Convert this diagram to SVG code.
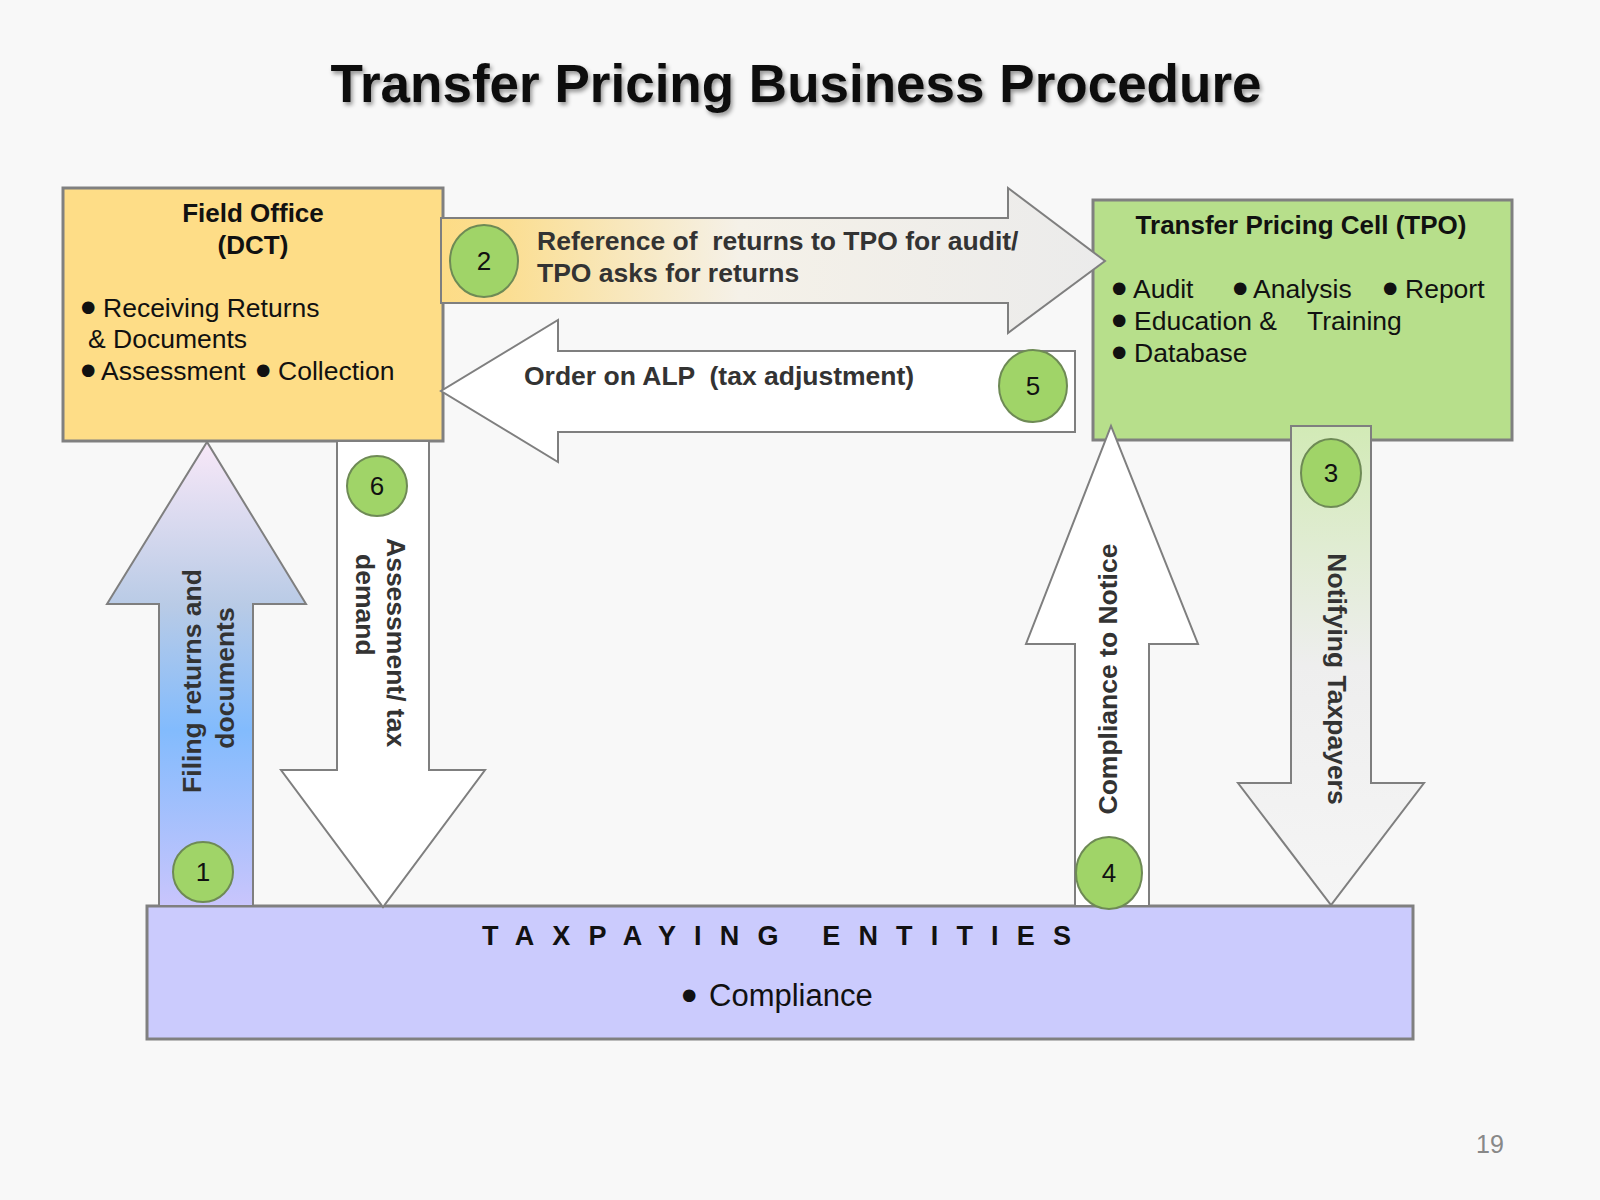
<svg xmlns="http://www.w3.org/2000/svg" width="1600" height="1200" viewBox="0 0 1600 1200">
<defs>
<style>
.t{font-family:"Liberation Sans",Arial,sans-serif;fill:#111}
.b{font-weight:bold}
.bl{font-family:"DejaVu Sans","Liberation Sans",sans-serif;font-size:16.5px}
.box{stroke:#808080;stroke-width:3}
.arr{stroke:#7f7f7f;stroke-width:2;stroke-linejoin:miter}
.num{stroke:#6e8a55;stroke-width:2;fill:#a0d468}
.nt{font-family:"Liberation Sans",Arial,sans-serif;font-size:26px;fill:#111;text-anchor:middle}
.at{font-family:"Liberation Sans",Arial,sans-serif;font-weight:bold;font-size:26.5px;fill:#333;white-space:pre}
</style>
<filter id="sh" x="-5%" y="-20%" width="110%" height="150%">
<feDropShadow dx="2" dy="3" stdDeviation="2" flood-color="#000" flood-opacity="0.4"/>
</filter>
<linearGradient id="g2" gradientUnits="userSpaceOnUse" x1="441" y1="0" x2="1105" y2="0">
<stop offset="0" stop-color="#fddc86"/>
<stop offset="0.1" stop-color="#fbde92"/>
<stop offset="0.45" stop-color="#f5f1e8"/>
<stop offset="1" stop-color="#ebebeb"/>
</linearGradient>
<linearGradient id="g1" gradientUnits="userSpaceOnUse" x1="0" y1="442" x2="0" y2="906">
<stop offset="0" stop-color="#f8e8f8"/>
<stop offset="0.35" stop-color="#b9cbe6"/>
<stop offset="0.62" stop-color="#82bbfd"/>
<stop offset="1" stop-color="#c9c5fc"/>
</linearGradient>
<linearGradient id="g3" gradientUnits="userSpaceOnUse" x1="0" y1="426" x2="0" y2="905">
<stop offset="0" stop-color="#d2eab6"/>
<stop offset="0.5" stop-color="#eeeeee"/>
<stop offset="1" stop-color="#f5f5f5"/>
</linearGradient>
</defs>
<rect x="0" y="0" width="1600" height="1200" fill="#f8f8f8"/>
<text class="t b" x="796" y="102" font-size="54" text-anchor="middle" textLength="931" lengthAdjust="spacingAndGlyphs" filter="url(#sh)">Transfer Pricing Business Procedure</text>

<g id="field-office">
<rect class="box" x="63" y="188" width="380" height="253" fill="#fedd87"/>
<text class="t b" x="253" y="222" font-size="26" text-anchor="middle">Field Office</text>
<text class="t b" x="253" y="254" font-size="26" text-anchor="middle">(DCT)</text>
<text class="t" y="317" font-size="26.5"><tspan class="bl" x="81" dy="-5">●</tspan><tspan x="103" dy="5">Receiving Returns</tspan></text>
<text class="t" x="88" y="348" font-size="26.5">&amp; Documents</text>
<text class="t" y="380" font-size="26.5"><tspan class="bl" x="81" dy="-5">●</tspan><tspan x="101" dy="5">Assessment</tspan><tspan class="bl" x="256" dy="-5">●</tspan><tspan x="278" dy="5">Collection</tspan></text>
</g>

<g id="tpo">
<rect class="box" x="1093" y="200" width="419" height="240" fill="#b7df8b"/>
<text class="t b" x="1301" y="234" font-size="26" text-anchor="middle">Transfer Pricing Cell (TPO)</text>
<text class="t" y="298" font-size="26.5"><tspan class="bl" x="1112" dy="-5">●</tspan><tspan x="1133" dy="5">Audit</tspan><tspan class="bl" x="1233" dy="-5">●</tspan><tspan x="1253" dy="5">Analysis</tspan><tspan class="bl" x="1383" dy="-5">●</tspan><tspan x="1405" dy="5">Report</tspan></text>
<text class="t" y="330" font-size="26.5"><tspan class="bl" x="1112" dy="-5">●</tspan><tspan x="1134" dy="5">Education &amp;</tspan><tspan x="1307">Training</tspan></text>
<text class="t" y="362" font-size="26.5"><tspan class="bl" x="1112" dy="-5">●</tspan><tspan x="1134" dy="5">Database</tspan></text>
</g>

<g id="taxpaying">
<rect class="box" x="147" y="906" width="1266" height="133" fill="#cbcbfd"/>
<text class="t b" x="482" y="945" font-size="27" textLength="589" lengthAdjust="spacing">TAXPAYING ENTITIES</text>
<text class="t" y="1006" font-size="31"><tspan class="bl" x="682" font-size="19" dy="-6">●</tspan><tspan x="709" dy="6">Compliance</tspan></text>
</g>

<g id="connectors">
<g id="arrow-2">
<polygon class="arr" fill="url(#g2)" points="441,218 1008,218 1008,188 1105,261 1008,333 1008,303 441,303"/>
<text class="at" xml:space="preserve"><tspan x="537" y="250">Reference of  returns to TPO for audit/</tspan><tspan x="537" y="282">TPO asks for returns</tspan></text>
</g>
<g id="arrow-5">
<polygon class="arr" fill="#ffffff" points="1075,351 558,351 558,320 441,391 558,462 558,432 1075,432"/>
<text class="at" xml:space="preserve" x="524" y="385">Order on ALP  (tax adjustment)</text>
</g>
<g id="arrow-1">
<polygon class="arr" fill="url(#g1)" points="159,906 159,604 107,604 207,442 306,604 253,604 253,906"/>
<text class="at" text-anchor="middle" transform="translate(201,681) rotate(-90)">Filing returns and</text>
<text class="at" text-anchor="middle" transform="translate(234,678) rotate(-90)">documents</text>
</g>
<g id="arrow-6">
<polygon class="arr" fill="#ffffff" points="337,441 429,441 429,770 485,770 383,907 281,770 337,770"/>
<text class="at" transform="translate(387,538) rotate(90)">Assessment/ tax</text>
<text class="at" transform="translate(356,554) rotate(90)">demand</text>
</g>
<g id="arrow-4">
<polygon class="arr" fill="#ffffff" points="1075,906 1075,644 1026,644 1111,426 1198,644 1149,644 1149,906"/>
<text class="at" text-anchor="middle" transform="translate(1117,679) rotate(-90)">Compliance to Notice</text>
</g>
<g id="arrow-3">
<polygon class="arr" fill="url(#g3)" points="1291,426 1371,426 1371,783 1424,783 1331,905 1238,783 1291,783"/>
<text class="at" text-anchor="middle" transform="translate(1328,679) rotate(90)">Notifying Taxpayers</text>
</g>
</g>

<g id="step-1"><circle class="num" cx="203" cy="872" r="30"/><text class="nt" x="203" y="881">1</text></g>
<g id="step-2"><ellipse class="num" cx="484" cy="261" rx="34" ry="36"/><text class="nt" x="484" y="270">2</text></g>
<g id="step-3"><ellipse class="num" cx="1331" cy="473" rx="30" ry="34"/><text class="nt" x="1331" y="482">3</text></g>
<g id="step-4"><ellipse class="num" cx="1109" cy="873" rx="33" ry="36"/><text class="nt" x="1109" y="882">4</text></g>
<g id="step-5"><ellipse class="num" cx="1033" cy="386" rx="34" ry="36"/><text class="nt" x="1033" y="395">5</text></g>
<g id="step-6"><circle class="num" cx="377" cy="486" r="30"/><text class="nt" x="377" y="495">6</text></g>

<text x="1490" y="1153" font-family="Liberation Sans,Arial,sans-serif" font-size="25" fill="#888" text-anchor="middle">19</text>
</svg>
